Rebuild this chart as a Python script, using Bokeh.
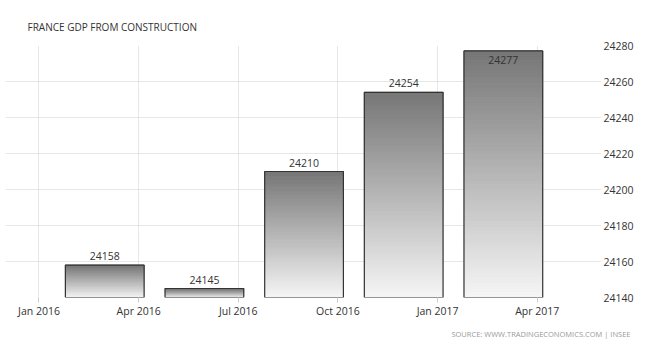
from bokeh.plotting import figure
from bokeh.models import Range1d, FixedTicker, Label, ColumnDataSource, Title
from bokeh.embed import file_html
from bokeh.resources import INLINE

# ---- data ----
quarters = ["2016 Q1", "2016 Q2", "2016 Q3", "2016 Q4", "2017 Q1"]
values = [24158, 24145, 24210, 24254, 24277]
tick_labels = ["Jan 2016", "Apr 2016", "Jul 2016", "Oct 2016", "Jan 2017", "Apr 2017"]
y_ticks = [24140, 24160, 24180, 24200, 24220, 24240, 24260, 24280]

Y_MIN, Y_MAX = 24140, 24280
FONT = "Open Sans"
TEXT = "#333333"

p = figure(width=657, height=344, output_backend="svg", toolbar_location=None,
           x_range=Range1d(-0.336, 5.645), y_range=Range1d(Y_MIN, Y_MAX),
           y_axis_location="right",
           min_border_left=5, min_border_right=56, min_border_top=45, min_border_bottom=46)
p.outline_line_color = None
p.background_fill_color = "white"
p.border_fill_color = "white"

# axes
p.xaxis.ticker = FixedTicker(ticks=list(range(len(tick_labels))))
p.xaxis.major_label_overrides = {i: t for i, t in enumerate(tick_labels)}
p.yaxis.ticker = FixedTicker(ticks=y_ticks)
for ax in (p.xaxis, p.yaxis):
    ax.axis_line_color = None
    ax.minor_tick_line_color = None
    ax.major_label_text_font = FONT
    ax.major_label_text_color = TEXT
    ax.major_label_text_font_size = "10.5px"
p.xaxis.major_tick_in = 0
p.xaxis.major_tick_out = 5
p.xaxis.major_tick_line_color = "#cccccc"
p.xaxis.major_label_standoff = 1
p.yaxis.major_tick_line_color = None
p.yaxis.major_tick_in = 0
p.yaxis.major_tick_out = 0
p.yaxis.major_label_standoff = 2

for g in (p.xgrid, p.ygrid):
    g.grid_line_color = "#cfcfcf"
    g.grid_line_dash = "1 1"
    g.grid_line_width = 1

# gradient bars built from strips
N = 80
top_rgb = (0x76, 0x76, 0x76)
bot_rgb = (0xf6, 0xf6, 0xf6)
offset, width = 0.66, 0.79
sl, sr, sb, st, sc = [], [], [], [], []
for k, v in enumerate(values):
    xc = k + offset
    for i in range(N):
        b = Y_MIN + (v - Y_MIN) * i / N
        t = Y_MIN + (v - Y_MIN) * (i + 1) / N
        f = (i + 0.5) / N  # 0 bottom -> 1 top
        c = tuple(int(round(bot_rgb[j] + (top_rgb[j] - bot_rgb[j]) * f)) for j in range(3))
        sl.append(xc - width / 2); sr.append(xc + width / 2)
        sb.append(b); st.append(t); sc.append("#%02x%02x%02x" % c)
p.quad(left=sl, right=sr, bottom=sb, top=st, fill_color=sc, line_color=sc, line_width=1)

bars = ColumnDataSource(dict(
    left=[k + offset - width / 2 for k in range(len(values))],
    right=[k + offset + width / 2 for k in range(len(values))],
    top=values, bottom=[Y_MIN] * len(values)))
p.quad(left="left", right="right", top="top", bottom="bottom", source=bars,
       fill_color=None, line_color="#333333", line_width=1.2)

# value labels
for k, v in enumerate(values):
    inside = (v - Y_MIN) / (Y_MAX - Y_MIN) > 0.93
    p.add_layout(Label(x=k + offset, y=v, text=str(v), text_align="center",
                       text_baseline="top" if inside else "bottom",
                       y_offset=-5 if inside else 5,
                       text_font=FONT, text_font_size="10.5px", text_color=TEXT))

# title & source
p.add_layout(Title(text="FRANCE GDP FROM CONSTRUCTION", align="left", offset=22,
                   standoff=20, vertical_align="top", text_font=FONT, text_font_size="10px",
                   text_font_style="normal", text_color=TEXT), "above")
p.add_layout(Title(text="SOURCE: WWW.TRADINGECONOMICS.COM | INSEE", align="right",
                   offset=-29, standoff=12, vertical_align="bottom", text_font=FONT,
                   text_font_size="7.5px", text_font_style="normal",
                   text_color="#9a9a9a"), "below")

open("out.html", "w").write(file_html(p, INLINE))
